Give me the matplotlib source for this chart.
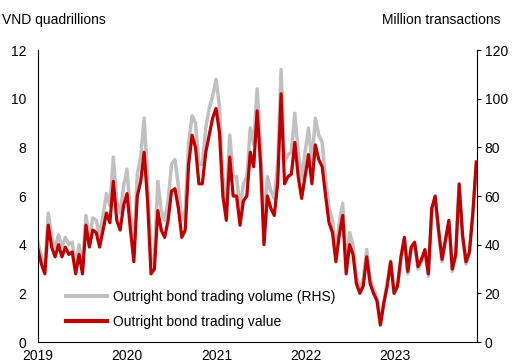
import matplotlib
matplotlib.use("Agg")
import matplotlib.pyplot as plt
import pandas as pd

plt.rcParams['font.family'] = ['Liberation Sans', 'DejaVu Sans']
plt.rcParams['font.size'] = 10

# Fortnightly observations, Jan 2019 - Nov 2023
dates = pd.date_range('2019-01-01', periods=129, freq='14D')

# Outright bond trading value, VND quadrillions (left axis)
trading_value = [
    3.8, 3.2, 2.8, 4.8, 3.9, 3.5, 4.0, 3.5, 3.9, 3.6,
    3.7, 2.8, 3.6, 2.8, 4.8, 3.9, 4.6, 4.5, 3.9, 4.6,
    5.3, 4.9, 6.6, 5.0, 4.6, 5.6, 6.1, 4.6, 3.3, 6.0,
    6.6, 7.8, 5.8, 2.8, 3.0, 5.4, 4.6, 4.3, 5.0, 6.2,
    6.3, 5.5, 4.3, 4.6, 7.3, 8.5, 8.0, 6.5, 6.5, 7.8,
    8.5, 9.2, 9.6, 8.6, 6.0, 5.0, 7.6, 6.0, 6.0, 4.8,
    5.8, 6.0, 7.8, 7.2, 9.5, 7.3, 4.0, 6.0, 5.5, 5.2,
    6.5, 10.2, 6.5, 6.8, 6.9, 8.2, 6.8, 5.9, 6.8, 7.7,
    6.5, 8.1, 7.5, 7.2, 6.0, 4.9, 4.5, 3.3, 4.4, 5.2,
    2.8, 4.0, 3.6, 2.4, 2.0, 2.3, 3.5, 2.4, 2.0, 1.7,
    0.7, 1.6, 2.3, 3.3, 2.0, 2.3, 3.5, 4.3, 2.9, 3.9,
    4.1, 3.1, 3.4, 3.8, 2.8, 5.5, 6.0, 4.6, 3.4, 4.2,
    5.0, 3.0, 3.6, 6.5, 4.4, 3.3, 3.7, 5.3, 7.4,
]

# Outright bond trading volume, million transactions (right axis)
trading_volume = [
    41, 35, 31, 53, 43, 39, 44, 39, 43, 40,
    41, 31, 40, 31, 52, 43, 51, 50, 44, 52,
    61, 56, 76, 58, 53, 64, 71, 53, 38, 69,
    76, 92, 68, 32, 35, 66, 54, 50, 58, 73,
    75, 64, 50, 54, 82, 93, 90, 73, 73, 88,
    96, 101, 108, 97, 68, 57, 85, 68, 68, 54,
    65, 68, 88, 81, 104, 82, 46, 68, 62, 59,
    73, 112, 74, 77, 78, 94, 78, 67, 78, 88,
    74, 92, 85, 82, 67, 55, 50, 37, 49, 57,
    31, 45, 40, 27, 22, 26, 38, 26, 22, 18,
    7, 16, 25, 33, 20, 23, 34, 42, 28, 38,
    40, 30, 33, 37, 27, 53, 58, 45, 33, 41,
    49, 29, 35, 64, 43, 32, 36, 52, 72,
]

year_ticks = ['2019', '2020', '2021', '2022', '2023']
left_ticks = [0, 2, 4, 6, 8, 10, 12]
right_ticks = [0, 20, 40, 60, 80, 100, 120]

RED = '#C00000'
GREY = '#C0C0C0'

fig = plt.figure(figsize=(5.15, 3.62), dpi=100)
ax = fig.add_axes([38 / 515, 20 / 362, 439 / 515, 292 / 362])
ax2 = ax.twinx()

vol_line, = ax2.plot(dates, trading_volume, color=GREY, lw=2.5,
                     solid_joinstyle='round',
                     label='Outright bond trading volume (RHS)')
val_line, = ax.plot(dates, trading_value, color=RED, lw=2.3,
                    solid_joinstyle='round',
                    label='Outright bond trading value')

# keep the value series on top of the volume series
ax.set_zorder(ax2.get_zorder() + 1)
ax.patch.set_visible(False)

ax.set_xlim(pd.Timestamp('2019-01-01'), pd.Timestamp('2023-12-01'))
ax.set_ylim(0, 12)
ax2.set_ylim(0, 120)

ax.set_xticks([pd.Timestamp(f'{y}-01-01') for y in year_ticks])
ax.set_xticklabels(year_ticks)
ax.set_yticks(left_ticks)
ax.set_yticklabels([str(v) for v in left_ticks])
ax2.set_yticks(right_ticks)
ax2.set_yticklabels([str(v) for v in right_ticks])

ax.tick_params(axis='x', length=0, pad=5, labelsize=10)
ax.tick_params(axis='y', length=0, pad=8.5, labelsize=10)
ax2.tick_params(axis='y', length=3, width=0.8, direction='out', pad=2.5,
                labelsize=10)

for a in (ax, ax2):
    a.spines['top'].set_visible(False)
    for s in ('left', 'right', 'bottom'):
        a.spines[s].set_color('black')
        a.spines[s].set_linewidth(0.8)
ax.spines['right'].set_visible(False)
ax2.spines['left'].set_visible(False)
ax2.spines['bottom'].set_visible(False)

fig.text(2 / 515, 1 - 20 / 362, 'VND quadrillions', ha='left', va='center',
         fontsize=10)
fig.text(500 / 515, 1 - 20 / 362, 'Million transactions', ha='right',
         va='center', fontsize=10)

leg = ax.legend(handles=[vol_line, val_line], loc='upper left',
                bbox_to_anchor=(28 / 439, 52 / 292), frameon=False,
                borderpad=0, borderaxespad=0, handlelength=2.95,
                handletextpad=0.4, labelspacing=0.8, fontsize=10)
for h in leg.get_lines():
    h.set_linewidth(3)

fig.savefig('out.png', dpi=100)
